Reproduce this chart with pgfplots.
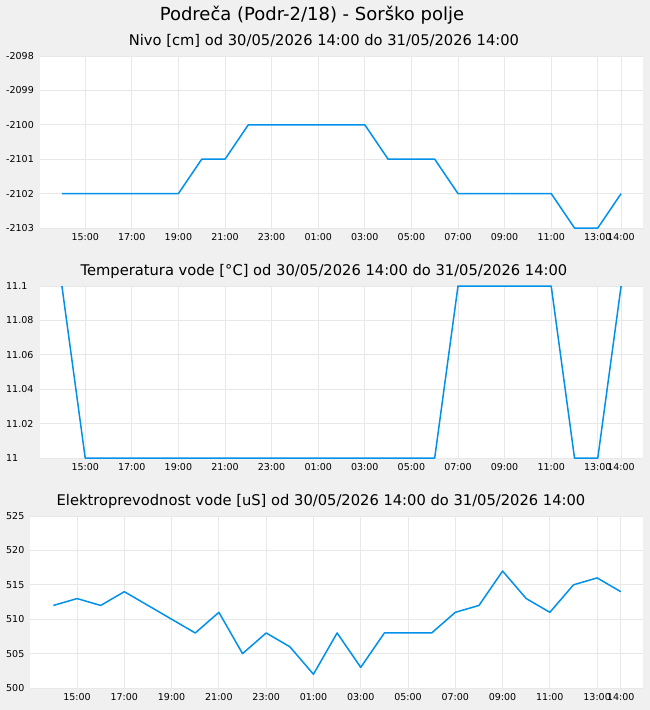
\documentclass[border=0pt]{standalone}
\usepackage{fontspec}
\setmainfont{DejaVu Sans}
\usepackage{pgfplots}
\pgfplotsset{compat=1.18}
\definecolor{bg}{HTML}{F0F0F0}
\definecolor{gridc}{HTML}{E8E8E8}
\definecolor{linec}{RGB}{0,145,235}
\pgfplotsset{
  panel/.style={
    scale only axis, width=603pt, height=172pt, anchor=north west,
    axis background/.style={fill=white},
    axis line style={draw=none},
    tick style={draw=none},
    major tick length=0pt,
    grid=major, grid style={gridc, line width=0.8pt},
    xtick={1,3,5,7,9,11,13,15,17,19,21,23,24},
    xticklabels={15:00,17:00,19:00,21:00,23:00,01:00,03:00,05:00,07:00,09:00,11:00,13:00,14:00},
    xmax=24.94,
    ticklabel style={font=\fontsize{9.5}{11}\selectfont, text=black},
    xticklabel style={anchor=north, inner sep=0pt, yshift=-5.5pt},
    clip=false,
  },
  dline/.style={linec, line width=1.5pt, line join=round, mark=none},
}
\begin{document}
\begin{tikzpicture}
\fill[bg] (0pt,0pt) rectangle (650pt,-710pt);
\node[anchor=base, font=\fontsize{18}{20}\selectfont] at (312pt,-20.7pt) {Podreča (Podr-2/18) - Sorško polje};
\node[anchor=base, font=\fontsize{14.7}{17}\selectfont] at (324pt,-45pt) {Nivo [cm] od 30/05/2026 14:00 do 31/05/2026 14:00};
\node[anchor=base, font=\fontsize{14.7}{17}\selectfont] at (324pt,-275pt) {Temperatura vode [°C] od 30/05/2026 14:00 do 31/05/2026 14:00};
\node[anchor=base, font=\fontsize{14.7}{17}\selectfont] at (321pt,-505pt) {Elektroprevodnost vode [uS] od 30/05/2026 14:00 do 31/05/2026 14:00};

\begin{axis}[panel, at={(40pt,-56pt)}, xmin=-0.94,
  ymin=-2103, ymax=-2098,
  ytick={-2103,-2102,-2101,-2100,-2099,-2098},
  yticklabels={-2103,-2102,-2101,-2100,-2099,-2098},
  yticklabel style={anchor=west, inner sep=0pt, xshift=-34pt}]
\addplot[dline] coordinates {
(0,-2102) (5,-2102) (6,-2101) (7,-2101) (8,-2100) (13,-2100) (14,-2101) (16,-2101)
(17,-2102) (21,-2102) (22,-2103) (23,-2103) (24,-2102)};
\end{axis}

\begin{axis}[panel, at={(40pt,-286pt)}, xmin=-0.94,
  ymin=11, ymax=11.1,
  ytick={11,11.02,11.04,11.06,11.08,11.1},
  yticklabels={11,11.02,11.04,11.06,11.08,11.1},
  yticklabel style={anchor=west, inner sep=0pt, xshift=-34pt}]
\addplot[dline] coordinates {
(0,11.1) (1,11) (16,11) (17,11.1) (21,11.1) (22,11) (23,11) (24,11.1)};
\end{axis}

\begin{axis}[panel, at={(30pt,-516pt)}, width=613pt, xmin=-0.99,
  ymin=500, ymax=525,
  ytick={500,505,510,515,520,525},
  yticklabels={500,505,510,515,520,525},
  yticklabel style={anchor=west, inner sep=0pt, xshift=-24pt}]
\addplot[dline] coordinates {
(0,512) (1,513) (2,512) (3,514) (4,512) (5,510) (6,508) (7,511) (8,505) (9,508)
(10,506) (11,502) (12,508) (13,503) (14,508) (15,508) (16,508) (17,511) (18,512)
(19,517) (20,513) (21,511) (22,515) (23,516) (24,514)};
\end{axis}
\end{tikzpicture}
\end{document}
